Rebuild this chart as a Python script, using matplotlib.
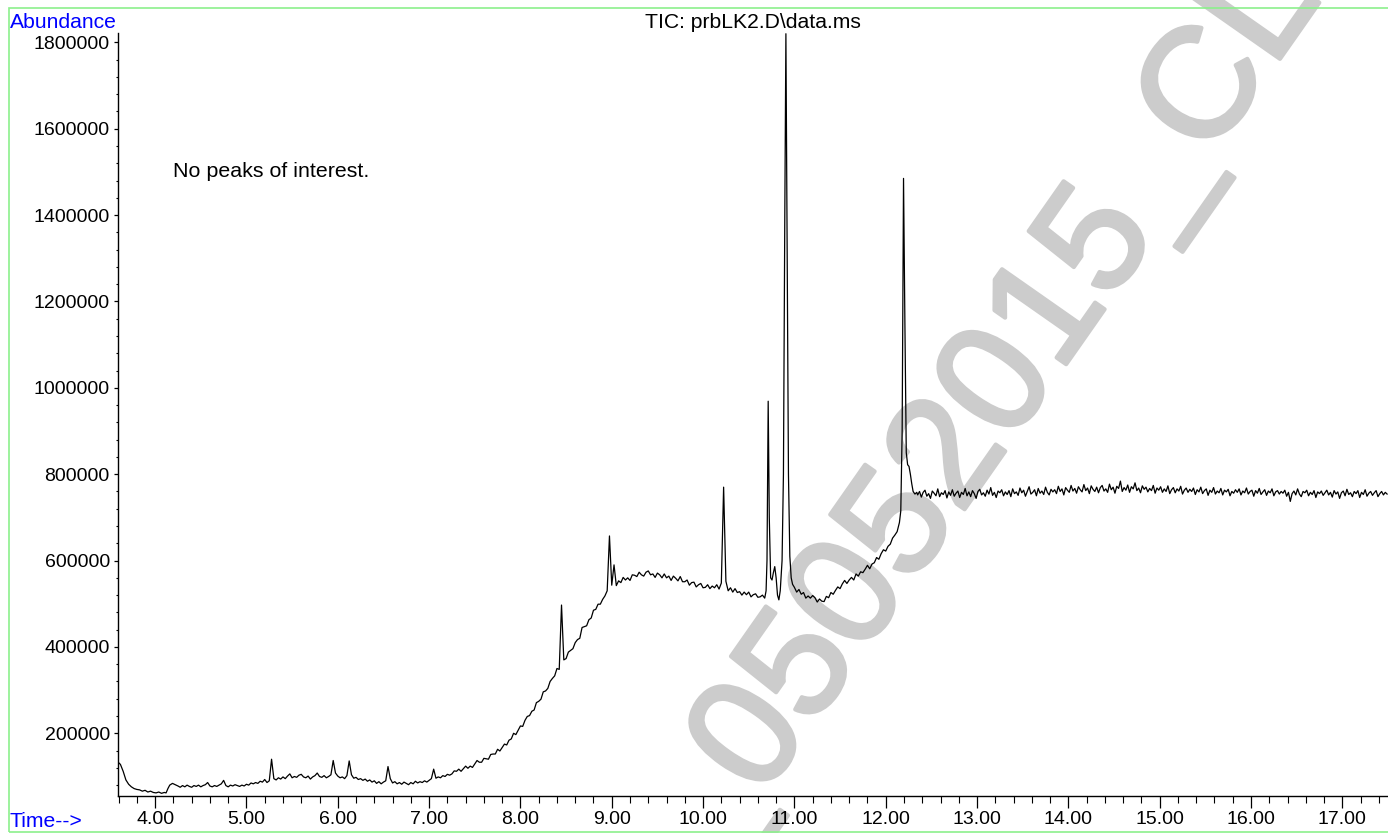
import numpy as np
import matplotlib
matplotlib.use("Agg")
import matplotlib.pyplot as plt
import matplotlib.patheffects as pe
from matplotlib.ticker import MultipleLocator, FormatStrFormatter
from matplotlib.patches import Rectangle

plt.rcParams['font.family'] = ['Liberation Sans', 'DejaVu Sans']

# --- TIC trace (time in min, abundance in thousands) ---
# start of run: solvent tail dropping to the baseline
start_t = [3.59, 3.62, 3.65, 3.68, 3.71, 3.74, 3.77, 3.80, 3.83, 3.86, 3.89, 3.92,
           3.95, 3.98, 4.01, 4.04, 4.07, 4.10, 4.12, 4.14, 4.16, 4.19, 4.22]
start_k = [134, 128, 112, 92, 82, 76, 72, 70, 69, 66, 68, 64,
           66, 63, 62, 64, 61, 63, 62, 72, 80, 84, 81]

# early baseline with small spikes, every 0.025 min from 4.25
early_k = [78, 75, 79, 76, 80, 77, 75, 79, 77, 80, 76, 79, 81, 86, 78, 76, 79, 77, 80, 83,
           91, 79, 76, 80, 78, 81, 79, 77, 80, 78, 82, 80, 85, 83, 86, 84, 89, 87, 93, 86,
           90, 140, 95, 92, 97, 94, 99, 95, 101, 106, 97, 100, 98, 103, 105, 99, 97, 101, 94, 99,
           102, 108, 100, 98, 102, 97, 100, 104, 137, 108, 101, 97, 99, 95, 102, 136, 104, 96, 98, 93,
           95, 91, 94, 89, 92, 87, 90, 84, 88, 83, 87, 90, 123, 95, 85, 88, 83, 86, 82, 87,
           84, 81, 86, 83, 89, 85, 88, 86, 90, 87, 91, 95, 117, 96, 99, 97, 102, 100, 105, 103]
early_start = 4.25

# bleed rise and plateau, every 0.025 min from 7.25
rise_k = [106, 113, 112, 117, 112, 118, 124, 119, 124, 121, 129, 137, 133, 133, 142, 141, 140, 151, 152, 152,
          163, 159, 167, 175, 173, 184, 187, 200, 197, 207, 217, 216, 230, 239, 241, 251, 254, 271, 274, 279,
          296, 298, 304, 320, 327, 333, 350, 348, 497, 370, 373, 388, 392, 396, 410, 417, 420, 445, 447, 449,
          463, 467, 485, 487, 499, 499, 510, 518, 530, 657, 543, 590, 542, 553, 549, 561, 555, 560, 554, 567,
          566, 563, 573, 567, 564, 573, 576, 567, 569, 561, 571, 567, 560, 569, 560, 564, 554, 564, 559, 553,
          563, 551, 551, 555, 543, 549, 550, 539, 544, 547, 537, 538, 544, 535, 541, 537, 544, 534, 548, 770,
          552, 530, 537, 527, 535, 526, 528, 520, 527, 521, 527, 516, 521, 523, 515, 516, 520, 513]
rise_start = 7.25

# the three large peaks around 10.7 - 10.9 min
peak_t = [10.69, 10.70, 10.713, 10.725, 10.74, 10.755, 10.77, 10.785, 10.80, 10.815, 10.83,
          10.845, 10.865, 10.88, 10.895, 10.907, 10.92, 10.935, 10.95, 10.965, 10.98]
peak_k = [530, 600, 969, 700, 560, 555, 572, 586, 560, 520, 509,
          530, 600, 800, 1400, 1820, 1350, 800, 610, 560, 545]

# dip and climb towards the 12.2 min peak, every 0.025 min from 11.0
dip_k = [538, 527, 533, 522, 526, 513, 518, 513, 519, 514, 504, 511, 506, 505, 517, 514, 526, 522, 531, 539,
         535, 546, 554, 547, 555, 561, 555, 569, 564, 574, 572, 580, 589, 581, 592, 595, 607, 603, 616, 625,
         622, 633, 638, 652, 659, 667, 688]
dip_start = 11.0

# 12.2 min peak with its tailing shoulder
late_t = [12.165, 12.18, 12.195, 12.21, 12.225, 12.24, 12.255, 12.27, 12.285, 12.30, 12.32, 12.34]
late_k = [715, 900, 1485, 1150, 850, 822, 818, 800, 778, 760, 754, 758]

# late flat baseline, every 0.02 min from 12.35
tail_k = [752, 760, 747, 758, 763, 749, 755, 744, 761, 756, 750, 766, 748, 757, 753, 762, 745, 759, 751, 764, 749, 756, 761, 746, 758,
          753, 767, 750, 759, 748, 762, 755, 744, 760, 765, 752, 757, 749, 763, 754, 769, 751, 758, 746, 761, 757, 764, 750, 759, 753,
          762, 748, 766, 755, 759, 751, 768, 757, 763, 749, 760, 771, 754, 758, 764, 750, 767, 756, 761, 753, 770, 758, 752, 765, 759,
          764, 755, 772, 760, 766, 752, 769, 763, 758, 774, 761, 767, 756, 771, 764, 759, 776, 762, 768, 755, 773, 765, 760, 770, 757,
          769, 774, 761, 766, 758, 777, 764, 770, 756, 772, 767, 784, 760, 769, 763, 775, 758, 771, 766, 780, 762, 768, 757, 773, 765,
          770, 759, 767, 762, 774, 756, 768, 763, 771, 758, 766, 760, 773, 755, 764, 769, 757, 766, 761, 772, 754, 763, 768, 758, 765,
          760, 768, 753, 764, 759, 770, 755, 762, 766, 751, 763, 758, 769, 754, 761, 757, 767, 752, 763, 759, 765, 750, 760, 756, 764,
          758, 766, 752, 761, 757, 768, 754, 760, 763, 749, 762, 756, 767, 753, 759, 764, 751, 761, 757, 766, 750, 759, 762, 754, 760,
          756, 763, 749, 758, 737, 755, 761, 752, 766, 754, 748, 760, 757, 763, 750, 758, 753, 762, 746, 759, 755, 761, 751, 757, 763,
          752, 758, 747, 762, 754, 759, 744, 757, 761, 750, 765, 753, 757, 748, 760, 755, 762, 746, 758, 753, 764, 749, 756, 760, 751,
          757, 762, 748, 755, 760, 752, 758, 754]
tail_start = 12.35

y_ticks = [200000, 400000, 600000, 800000, 1000000, 1200000, 1400000, 1600000, 1800000]
x_ticks = [4, 5, 6, 7, 8, 9, 10, 11, 12, 13, 14, 15, 16, 17]


def grid(start, step, vals):
    return start + step * np.arange(len(vals))


rt = np.concatenate([start_t,
                     grid(early_start, 0.025, early_k),
                     grid(rise_start, 0.025, rise_k),
                     peak_t,
                     grid(dip_start, 0.025, dip_k),
                     late_t,
                     grid(tail_start, 0.02, tail_k)])
tic = np.concatenate([start_k, early_k, rise_k, peak_k, dip_k, late_k, tail_k]) * 1000.0

W, H = 1388, 833
fig = plt.figure(figsize=(W / 100, H / 100), dpi=100)

# axes placed to match the instrument printout
ax = fig.add_axes([117.5 / W, 1 - 795.7 / H, 1 - 117.5 / W, (795.7 - 33.3) / H])
ax.patch.set_alpha(0)
ax.plot(rt, tic, color='black', lw=0.9, zorder=3)
ax.set_xlim(3.588, 17.5)
ax.set_ylim(55500, 1821000)

for s in ['top', 'right']:
    ax.spines[s].set_visible(False)
for s in ['left', 'bottom']:
    ax.spines[s].set_linewidth(1.0)

ax.set_xticks(x_ticks)
ax.xaxis.set_major_formatter(FormatStrFormatter('%.2f'))
ax.xaxis.set_minor_locator(MultipleLocator(0.2))
ax.set_yticks(y_ticks)
ax.yaxis.set_major_formatter(FormatStrFormatter('%d'))
ax.yaxis.set_minor_locator(MultipleLocator(40000))
ax.tick_params(axis='x', which='major', length=8.5, width=0.9, pad=2.5, labelsize=14)
ax.tick_params(axis='x', which='minor', length=5, width=0.8)
ax.tick_params(axis='y', which='major', length=3, width=0.9, pad=2.5, labelsize=14)
ax.tick_params(axis='y', which='minor', length=1.8, width=0.8)

# header / footer texts
fig.text(10 / W, 1 - 28.3 / H, 'Abundance', color='blue', fontsize=15.2, va='baseline', ha='left')
fig.text(10 / W, 1 - 826.7 / H, 'Time-->', color='blue', fontsize=15.2, va='baseline', ha='left')
fig.text(753 / W, 1 - 28.3 / H, 'TIC: prbLK2.D\\data.ms', color='black', fontsize=15.2,
         va='baseline', ha='center')
fig.text(173 / W, 1 - 176.7 / H, 'No peaks of interest.', color='black', fontsize=15.4,
         va='baseline', ha='left')

# watermark
fig.text(712 / W, 1 - 870 / H, '_05052015_CL', color='#cccccc', fontsize=112,
         rotation=55, rotation_mode='anchor', ha='left', va='baseline', zorder=-1,
         path_effects=[pe.withStroke(linewidth=3, foreground='#cccccc')])

# green frame
fig.patches.append(Rectangle((9 / W, 1 - 831.7 / H), 1.2, (831.7 - 8.3) / H,
                             transform=fig.transFigure, fill=False,
                             edgecolor='#8cf08c', lw=1.2, zorder=5))

fig.savefig('out.png', dpi=100)
